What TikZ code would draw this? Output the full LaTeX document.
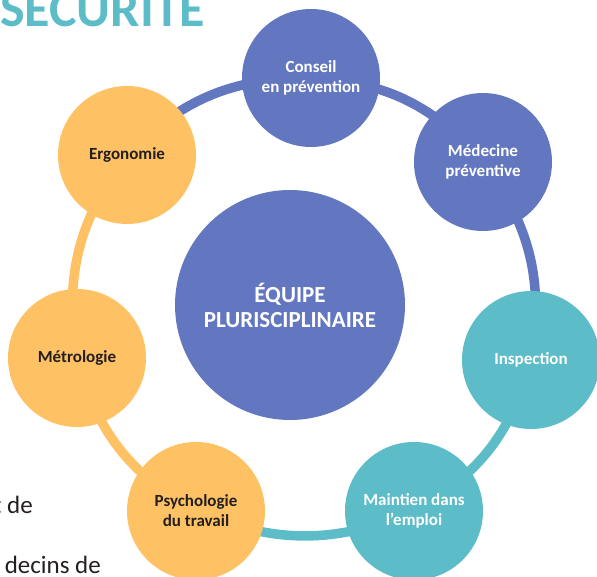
\documentclass[tikz,border=0pt]{standalone}
\usepackage{fontspec}
\setmainfont{Carlito}
\usetikzlibrary{backgrounds}
\definecolor{poleblue}{RGB}{99,119,192}
\definecolor{poleteal}{RGB}{92,188,200}
\definecolor{poleorange}{RGB}{254,194,101}
\definecolor{darktext}{RGB}{35,31,32}
\begin{document}
\begin{tikzpicture}[x=1pt, y=-1pt, pole/.style={ circle, inner sep=0pt,
    minimum size=138pt, align=center,
    font=\bfseries\fontsize{17}{20}\selectfont }, blue/.style={ pole,
    fill=poleblue, text=white }, teal/.style={ pole, fill=poleteal,
    text=white }, orange/.style={ pole, fill=poleorange, text=darktext },
  ring/.style={ line width=9.5pt } ]
  \useasboundingbox (0,0) rectangle (597,577);
  \clip (0,0) rectangle (597,577);
  \node[anchor=base west, inner sep=0pt, text=poleteal,
    font=\bfseries\fontsize{52}{52}\selectfont] (titre) at (0,27) {SÉCURITÉ};
  \node[anchor=base east, inner sep=0pt, text=darktext,
    font=\fontsize{25}{25}\selectfont] (suite1) at (33,513) {t de};
  \node[anchor=base east, inner sep=0pt, text=darktext,
    font=\fontsize{25}{25}\selectfont] (suite2) at (101,573) {decins de};
  \node[circle, fill=poleblue, text=white, minimum size=230pt, align=center,
    font=\bfseries\fontsize{23}{25}\selectfont] (equipe) at (290,305)
    {ÉQUIPE\\PLURISCIPLINAIRE};
  \foreach \x/\y/\n/\s/\t in {311/78/conseil/blue/{Conseil\\en prévention},
    483/162/medecine/blue/{Médecine\\préventive},
    531/360/inspection/teal/{Inspection},
    414/511/maintien/teal/{Maintien dans\\l’emploi},
    196/511/psycho/orange/{Psychologie\\du travail},
    77/358/metro/orange/{Métrologie},
    127/155/ergo/orange/{Ergonomie}}
  \node[\s] (\n) at (\x,\y) {\t};
  \begin{scope}[on background layer]
    \foreach \a/\b/\c in {conseil/medecine/poleblue,
      medecine/inspection/poleblue, inspection/maintien/poleteal,
      maintien/psycho/poleteal, psycho/metro/poleorange,
      metro/ergo/poleorange, ergo/conseil/poleblue}
    \draw[ring, \c] (\a.center) to[bend left=23] (\b.center);
  \end{scope}
\end{tikzpicture}
\end{document}
